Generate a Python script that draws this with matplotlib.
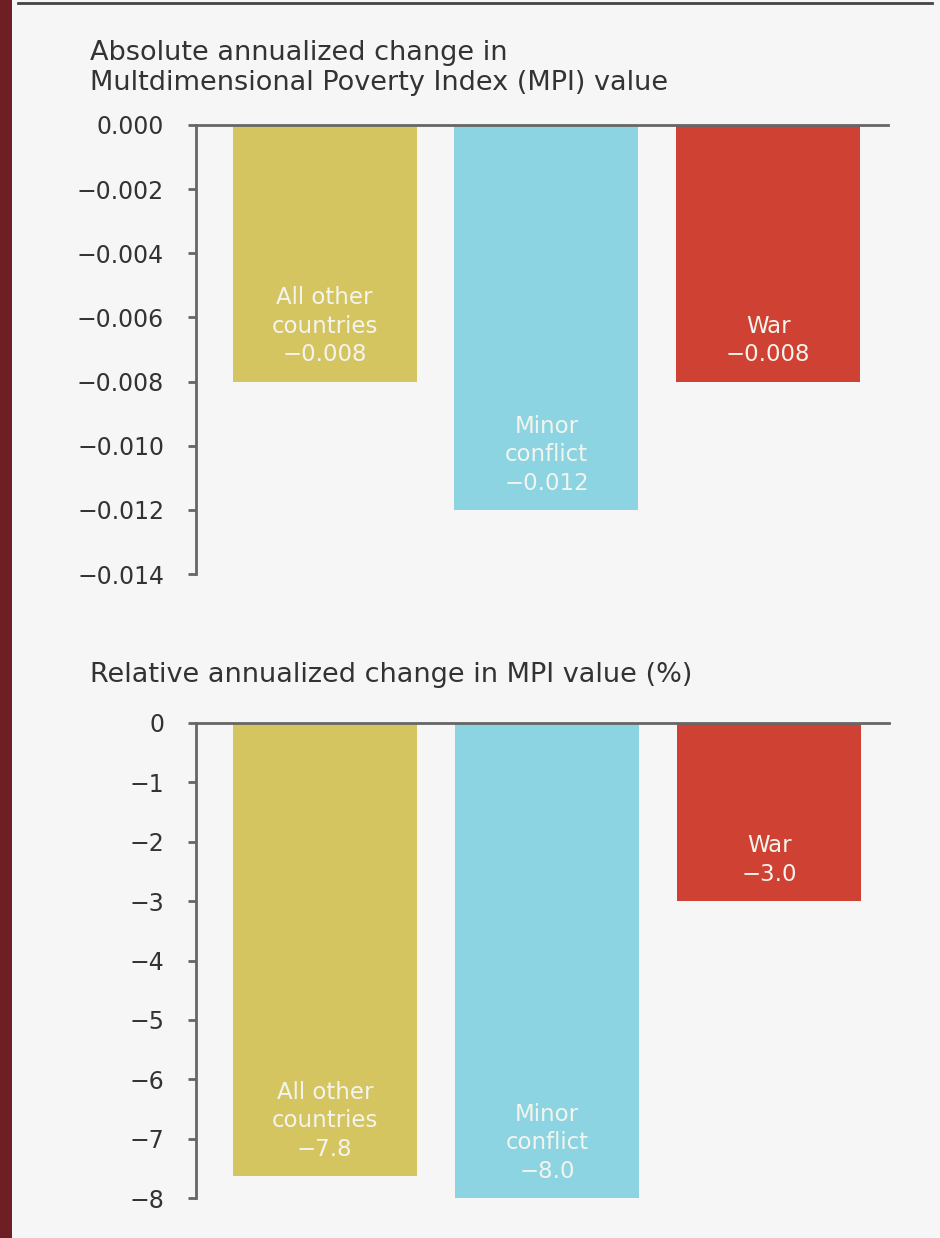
import matplotlib
matplotlib.use("Agg")
import matplotlib.pyplot as plt
from matplotlib.ticker import FuncFormatter

plt.rcParams['font.family'] = ['DejaVu Sans']

# ---------------- data ----------------
categories = ["All other\ncountries", "Minor\nconflict", "War"]
colors = ["#d4c561", "#8cd4e1", "#cf4132"]

abs_values = [-0.008, -0.012, -0.008]
abs_labels = ["\u22120.008", "\u22120.012", "\u22120.008"]
abs_ticks = [0.000, -0.002, -0.004, -0.006, -0.008, -0.010, -0.012, -0.014]

rel_values = [-7.63, -8.0, -3.0]
rel_labels = ["\u22127.8", "\u22128.0", "\u22123.0"]
rel_ticks = [0, -1, -2, -3, -4, -5, -6, -7, -8]

title_abs = "Absolute annualized change in\nMultdimensional Poverty Index (MPI) value"
title_rel = "Relative annualized change in MPI value (%)"

# ---------------- figure ----------------
W, H = 940, 1238
fig = plt.figure(figsize=(W / 100, H / 100), dpi=100)
fig.patch.set_facecolor("#f6f6f6")

# left dark strip and top rule
fig.patches.append(plt.Rectangle((0, 0), 12 / W, 1, transform=fig.transFigure,
                                 facecolor="#6e1f24", edgecolor="none", zorder=0))
fig.add_artist(plt.Line2D([18 / W, 932 / W], [1 - 3 / H, 1 - 3 / H],
                          transform=fig.transFigure, color="#444444", lw=2))

TXT = "#333333"
SPINE = "#666666"


def fmt_minus(s):
    return s.replace("-", "\u2212")


def make_axes(top_px, bot_px, left_px, right_px):
    return fig.add_axes([left_px / W, 1 - bot_px / H,
                         (right_px - left_px) / W, (bot_px - top_px) / H])


def style(ax, ticks, ylim, fmt):
    ax.set_facecolor("none")
    ax.set_ylim(*ylim)
    ax.set_yticks(ticks)
    ax.yaxis.set_major_formatter(FuncFormatter(fmt))
    ax.set_xticks([])
    for s in ["right", "bottom"]:
        ax.spines[s].set_visible(False)
    ax.spines["left"].set_color(SPINE)
    ax.spines["left"].set_linewidth(2)
    ax.spines["top"].set_color(SPINE)
    ax.spines["top"].set_linewidth(2)
    ax.tick_params(axis="y", length=6, width=2, color=SPINE, pad=17,
                   labelsize=17, labelcolor=TXT)


def draw_bars(ax, values, labels, xlim):
    x = list(range(len(values)))
    ax.bar(x, values, width=0.83, color=colors, zorder=2)
    ax.set_xlim(*xlim)
    for xi, v, cat, lab in zip(x, values, categories, labels):
        ax.annotate(cat + "\n" + lab, (xi, v), xytext=(0, 11),
                    textcoords="offset points", ha="center", va="bottom",
                    color="#f4f4ee", fontsize=16.5, linespacing=1.3, zorder=3)


# top panel
ax1 = make_axes(125, 574, 196, 888)
style(ax1, abs_ticks, (-0.014, 0.0), lambda v, p: fmt_minus(f"{v:.3f}") if abs(v) > 1e-12 else "0.000")
draw_bars(ax1, abs_values, abs_labels, (-0.58, 2.54))
fig.text(90 / W, 1 - 68 / H, title_abs, ha="left", va="center", fontsize=19.5,
         color=TXT, linespacing=1.25)

# bottom panel
ax2 = make_axes(723, 1198, 196, 889)
style(ax2, rel_ticks, (-8, 0), lambda v, p: fmt_minus(f"{v:.0f}") if abs(v) > 1e-12 else "0")
draw_bars(ax2, rel_values, rel_labels, (-0.58, 2.54))
fig.text(90 / W, 1 - 675 / H, title_rel, ha="left", va="center", fontsize=19.5,
         color=TXT)

fig.savefig("out.png", dpi=100, facecolor=fig.get_facecolor())
